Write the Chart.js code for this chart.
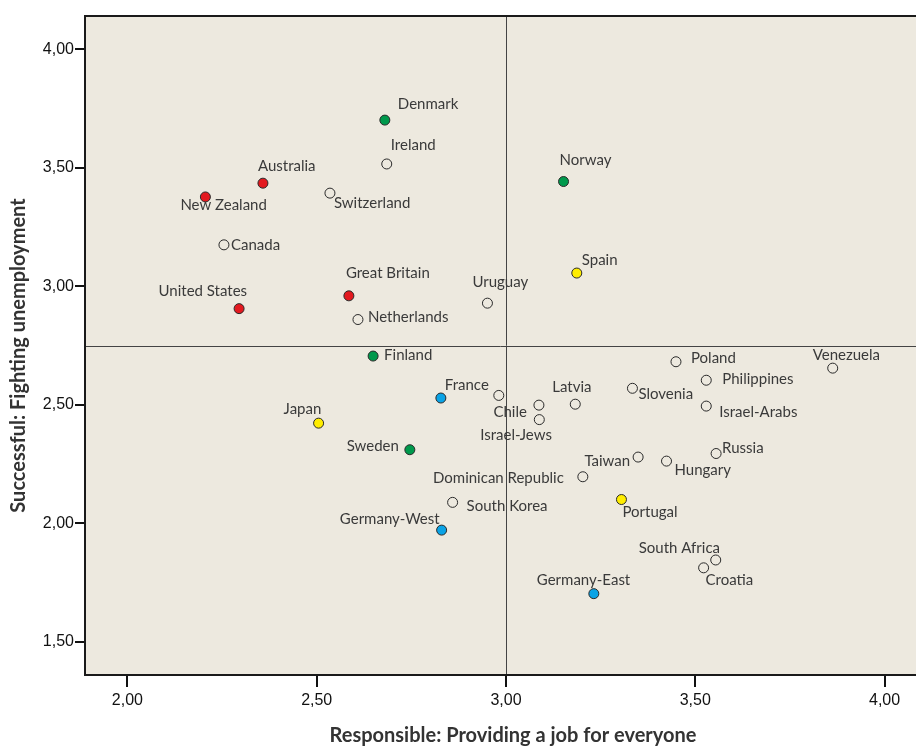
<!DOCTYPE html>
<html>
<head>
<meta charset="utf-8">
<script src="https://cdn.jsdelivr.net/npm/chart.js@4/dist/chart.umd.min.js"></script>
<style>
  html, body { margin: 0; padding: 0; background: #fff; }
  #wrap { width: 916px; height: 747px; }
</style>
</head>
<body>
<div id="wrap"><canvas id="myChart"></canvas></div>
<script>
'use strict';

// Data
var countries = [
  'Denmark', 'Ireland', 'Australia', 'New Zealand', 'Switzerland', 'Canada',
  'Great Britain', 'United States', 'Netherlands', 'Finland', 'Norway', 'Spain',
  'Uruguay', 'France', 'Japan', 'Sweden', 'South Korea', 'Germany-West',
  'Dominican Republic', '', 'Chile', 'Israel-Jews', 'Latvia', 'Slovenia',
  'Poland', 'Philippines', 'Israel-Arabs', 'Venezuela', 'Russia', 'Taiwan',
  'Hungary', 'Portugal', 'South Africa', 'Croatia', 'Germany-East'
];
// Responsible: Providing a job for everyone
var responsible = [
  2.68, 2.685, 2.358, 2.206, 2.535, 2.255,
  2.585, 2.295, 2.609, 2.649, 3.152, 3.187,
  2.951, 2.828, 2.505, 2.746, 2.859, 2.830,
  3.203, 2.981, 3.087, 3.088, 3.183, 3.334,
  3.449, 3.529, 3.529, 3.863, 3.555, 3.349,
  3.424, 3.305, 3.554, 3.522, 3.232
];
// Successful: Fighting unemployment
var successful = [
  3.701, 3.516, 3.435, 3.377, 3.393, 3.175,
  2.960, 2.906, 2.860, 2.706, 3.442, 3.056,
  2.929, 2.529, 2.423, 2.311, 2.089, 1.972,
  2.197, 2.540, 2.499, 2.438, 2.503, 2.570,
  2.682, 2.604, 2.495, 2.655, 2.295, 2.280,
  2.263, 2.101, 1.846, 1.813, 1.704
];
// country groups
var groups = [
  'nordic', 'other', 'anglo', 'anglo', 'other', 'other',
  'anglo', 'anglo', 'other', 'nordic', 'nordic', 'south',
  'other', 'central', 'south', 'nordic', 'other', 'central',
  'other', 'other', 'other', 'other', 'other', 'other',
  'other', 'other', 'other', 'other', 'other', 'other',
  'other', 'south', 'other', 'other', 'central'
];
var xTicks = [2, 2.5, 3, 3.5, 4];
var yTicks = [1.5, 2, 2.5, 3, 3.5, 4];
var refX = 3.0;
var refY = 2.75;

var groupColors = {
  anglo: '#e3191f',
  nordic: '#00994c',
  south: '#ffed00',
  central: '#0aa3e6',
  other: 'rgba(0,0,0,0)'
};

// Label placement: [dx, dy, align] from the point centre
var labelPlace = {
  'Denmark': [13, -16, 'left'],
  'Ireland': [4, -19, 'left'],
  'Australia': [-5, -17, 'left'],
  'New Zealand': [-25, 8, 'left'],
  'Switzerland': [4, 10, 'left'],
  'Canada': [7, 0, 'left'],
  'Great Britain': [-3, -23, 'left'],
  'United States': [8, -17, 'right'],
  'Netherlands': [10, -2, 'left'],
  'Finland': [11, -1, 'left'],
  'Norway': [-4, -21, 'left'],
  'Spain': [5, -13, 'left'],
  'Uruguay': [-15, -21, 'left'],
  'France': [4, -13, 'left'],
  'Japan': [-35, -14, 'left'],
  'Sweden': [-11, -4, 'right'],
  'South Korea': [14, 4, 'left'],
  'Germany-West': [-2, -11, 'right'],
  'Dominican Republic': [-19, 1, 'right'],
  'Chile': [-12, 7, 'right'],
  'Israel-Jews': [-59, 16, 'left'],
  'Latvia': [-23, -17, 'left'],
  'Slovenia': [6, 6, 'left'],
  'Poland': [15, -4, 'left'],
  'Philippines': [16, -1, 'left'],
  'Israel-Arabs': [13, 6, 'left'],
  'Venezuela': [-20, -13, 'left'],
  'Russia': [6, -5, 'left'],
  'Taiwan': [-8, 4, 'right'],
  'Hungary': [8, 9, 'left'],
  'Portugal': [1, 13, 'left'],
  'South Africa': [-77, -12, 'left'],
  'Croatia': [2, 12, 'left'],
  'Germany-East': [-57, -14, 'left']
};

var points = countries.map(function(c, i) {
  return { x: responsible[i], y: successful[i] };
});

function fmt(v) {
  return v.toFixed(2).replace('.', ',');
}

// Background, frame, reference lines, point labels, axis titles
var framePlugin = {
  id: 'frame',
  beforeDatasetsDraw: function(chart) {
    var ctx = chart.ctx;
    var a = chart.chartArea;
    var xs = chart.scales.x;
    var ys = chart.scales.y;
    ctx.save();
    ctx.fillStyle = '#ede9df';
    ctx.fillRect(a.left, a.top, a.right - a.left, a.bottom - a.top);
    ctx.strokeStyle = '#444';
    ctx.lineWidth = 1;
    var px = Math.round(xs.getPixelForValue(refX)) + 0.5;
    var py = Math.round(ys.getPixelForValue(refY)) + 0.5;
    ctx.beginPath();
    ctx.moveTo(px, a.top);
    ctx.lineTo(px, a.bottom);
    ctx.moveTo(a.left, py);
    ctx.lineTo(a.right, py);
    ctx.stroke();
    ctx.strokeStyle = '#1a1a1a';
    ctx.lineWidth = 2;
    ctx.beginPath();
    ctx.moveTo(a.right + 2, a.top);
    ctx.lineTo(a.left, a.top);
    ctx.lineTo(a.left, a.bottom);
    ctx.lineTo(a.right + 2, a.bottom);
    ctx.stroke();
    ctx.restore();
  },
  afterDatasetsDraw: function(chart) {
    var ctx = chart.ctx;
    var meta = chart.getDatasetMeta(0);
    ctx.save();
    ctx.font = '15px Lato';
    ctx.fillStyle = '#3a3a3a';
    ctx.textBaseline = 'middle';
    meta.data.forEach(function(el, i) {
      var name = countries[i];
      var p = labelPlace[name];
      if (!name || !p) return;
      ctx.textAlign = p[2];
      ctx.fillText(name, el.x + p[0], el.y + p[1]);
    });
    // axis titles
    var a = chart.chartArea;
    ctx.font = 'bold 20px Lato';
    ctx.fillStyle = '#333';
    ctx.textAlign = 'center';
    ctx.fillText('Responsible: Providing a job for everyone', a.left + 428, 736);
    ctx.translate(19, (a.top + a.bottom) / 2 + 10);
    ctx.rotate(-Math.PI / 2);
    ctx.fillText('Successful: Fighting unemployment', 0, 0);
    ctx.restore();
  }
};

var ctx = document.getElementById('myChart').getContext('2d');

var chart = new Chart(ctx, {
  type: 'scatter',
  data: {
    datasets: [
      {
        label: 'Countries',
        data: points,
        pointRadius: 5,
        pointHoverRadius: 5,
        pointBorderWidth: 1,
        pointBorderColor: '#2a2a2a',
        pointBackgroundColor: groups.map(function(g) { return groupColors[g]; })
      }
    ]
  },
  plugins: [framePlugin],
  options: {
    responsive: true,
    maintainAspectRatio: false,
    animation: false,
    layout: { autoPadding: false, padding: { top: 16, right: 0, left: 0, bottom: 0 } },
    plugins: {
      legend: { display: false },
      tooltip: { enabled: false }
    },
    scales: {
      x: {
        type: 'linear',
        min: 1.888,
        max: 4.083,
        afterBuildTicks: function(scale) {
          scale.ticks = xTicks.map(function(v) { return { value: v }; });
        },
        afterFit: function(scale) {
          scale.height = 72;
          scale.paddingRight = 0;
          scale.paddingLeft = 0;
        },
        border: { display: false },
        grid: {
          drawOnChartArea: false,
          drawTicks: true,
          tickLength: 12,
          color: '#111',
          lineWidth: 2
        },
        ticks: {
          padding: 4,
          color: '#111',
          font: { family: 'Liberation Sans', size: 16 },
          callback: function(v) { return fmt(v); }
        }
      },
      y: {
        type: 'linear',
        min: 1.361,
        max: 4.14,
        afterBuildTicks: function(scale) {
          scale.ticks = yTicks.map(function(v) { return { value: v }; });
        },
        afterFit: function(scale) {
          scale.width = 85;
          scale.paddingTop = 0;
          scale.paddingBottom = 0;
        },
        border: { display: false },
        grid: {
          drawOnChartArea: false,
          drawTicks: true,
          tickLength: 10,
          color: '#111',
          lineWidth: 2
        },
        ticks: {
          padding: 1,
          color: '#111',
          font: { family: 'Liberation Sans', size: 16 },
          callback: function(v) { return fmt(v); }
        }
      }
    }
  }
});
</script>
</body>
</html>
